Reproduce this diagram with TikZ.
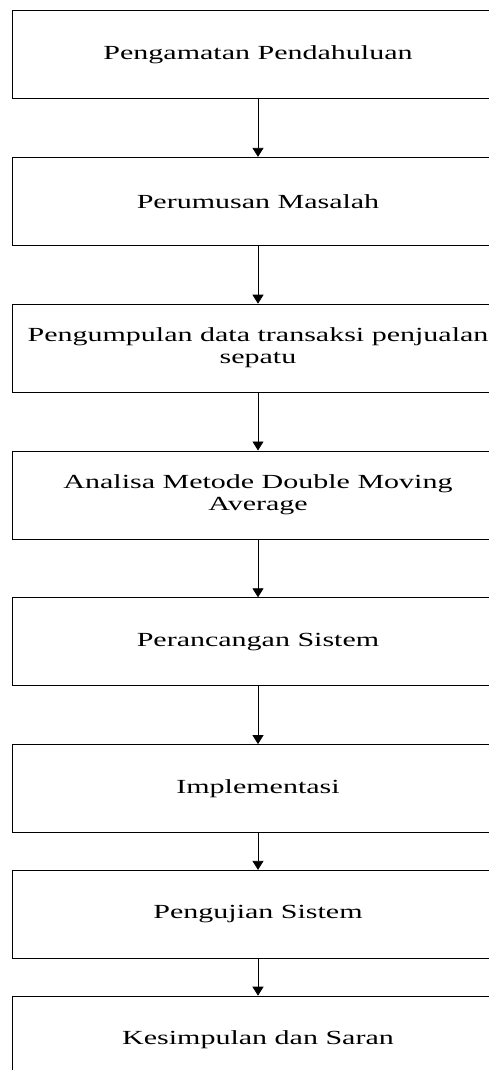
\documentclass[tikz,border=0pt]{standalone}
\usepackage{fontspec}
\setmainfont[FakeStretch=1.5]{Liberation Serif}
\usepackage{tikz}
\usetikzlibrary{arrows.meta, positioning}
\tikzstyle{stage} = [
    draw,
    line width=0.8pt,
    minimum width=491pt,
    minimum height=88pt,
    align=center,
    font=\fontsize{20}{22}\selectfont
]
\tikzstyle{arrow} = [
    line width=0.8pt,
    -{Triangle[width=11pt,length=9pt]}
]

\begin{document}
\begin{tikzpicture}[x=1pt, y=-1pt, node distance=58pt]
        % Page
        \clip (0,0) rectangle (489,1070);
        \useasboundingbox (0,0) rectangle (489,1070);

        % Stages
        \node[stage] (amat) at (258,54.5) {Pengamatan Pendahuluan};
        \node[stage, below=of amat] (rumus) {Perumusan Masalah};
        \node[stage, below=of rumus] (data) {Pengumpulan data transaksi penjualan\\ sepatu};
        \node[stage, below=of data] (analisa) {Analisa Metode Double Moving\\ Average};
        \node[stage, below=of analisa] (rancang) {Perancangan Sistem};
        \node[stage, below=of rancang] (impl) {Implementasi};
        \node[stage, below=37pt of impl] (uji) {Pengujian Sistem};
        \node[stage, below=37pt of uji] (simpul) {Kesimpulan dan Saran};

        % Arrows
        \draw[arrow] (amat) -- (rumus);
        \draw[arrow] (rumus) -- (data);
        \draw[arrow] (data) -- (analisa);
        \draw[arrow] (analisa) -- (rancang);
        \draw[arrow] (rancang) -- (impl);
        \draw[arrow] (impl) -- (uji);
        \draw[arrow] (uji) -- (simpul);
    \end{tikzpicture}
\end{document}
